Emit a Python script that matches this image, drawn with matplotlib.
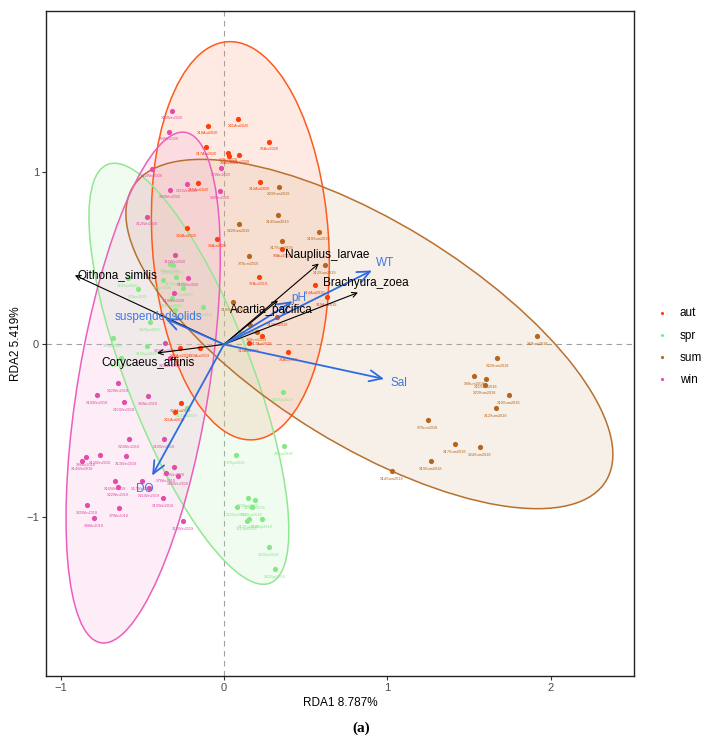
import numpy as np
import matplotlib
matplotlib.use("Agg")
import matplotlib.pyplot as plt
from matplotlib.patches import Ellipse

# ---------------- data ----------------
aut_x = [0.086, -0.098, 0.276, -0.110, 0.024, 0.030, 0.092, -0.159, 0.220, -0.227, -0.043, 0.355,
         0.214, 0.557, 0.631, 0.325, 0.233, 0.153, 0.392, -0.147, -0.269, -0.263, -0.300]
aut_y = [1.306, 1.266, 1.173, 1.145, 1.110, 1.092, 1.098, 0.936, 0.942, 0.671, 0.613, 0.555,
         0.393, 0.341, 0.272, 0.156, 0.046, 0.006, -0.046, -0.023, -0.023, -0.341, -0.393]
aut_lab = ["X21Aut2020", "X10Aut2020", "X5Aut2020", "X17Aut2020", "X7Aut2020", "X9Aut2020", "X22Aut2020",
           "X15Aut2020", "X12Aut2020", "X20Aut2020", "X6Aut2020", "X9Aut2019", "X7Aut2019", "X14Aut2019",
           "X19Aut2019", "X12Aut2019", "X17Aut2019", "X10Aut2019", "X5Aut2019", "X23Aut2019", "X22Aut2019",
           "X24Aut2019", "X21Aut2019"]

spr_x = [-0.331, -0.312, -0.588, -0.374, -0.294, -0.251, -0.527, -0.318, -0.129, -0.300, -0.453, -0.680,
         -0.472, -0.631, -0.227, 0.361, 0.367, 0.073, 0.147, 0.190, 0.080, 0.171, 0.153, 0.141, 0.233,
         0.276, 0.312]
spr_y = [0.468, 0.457, 0.382, 0.370, 0.393, 0.329, 0.318, 0.266, 0.214, 0.202, 0.127, 0.035,
         -0.012, -0.081, -0.370, -0.277, -0.590, -0.642, -0.890, -0.902, -0.942, -0.942, -1.012, -1.023,
         -1.012, -1.173, -1.301]
spr_lab = ["X6Spr2020", "X22Spr2020", "X24Spr2020", "X9Spr2020", "X12Spr2020", "X17Spr2020", "X7Spr2019",
           "X11Spr2020", "X20Spr2019", "X21Spr2020", "X22Spr2019", "X5Spr2019", "X15Spr2019", "X14Spr2019",
           "X13Spr2019", "X21Spr2019", "X6Spr2018", "X7Spr2018", "X20Spr2018", "X24Spr2018", "X22Spr2018",
           "X10Spr2018", "X17Spr2018", "X11Spr2018", "X14Spr2018", "X23Spr2018", "X16Spr2018"]

sum_x = [0.337, 0.331, 0.092, 0.582, 0.355, 0.153, 0.618, 0.055, 0.159, 0.202, 1.918, 1.672,
         1.531, 1.604, 1.598, 1.745, 1.666, 1.249, 1.415, 1.568, 1.268, 1.029]
sum_y = [0.913, 0.751, 0.699, 0.653, 0.601, 0.509, 0.457, 0.243, 0.110, 0.069, 0.046, -0.081,
         -0.185, -0.202, -0.237, -0.295, -0.370, -0.439, -0.578, -0.595, -0.676, -0.734]
sum_lab = ["X23Sum2019", "X14Sum2019", "X22Sum2019", "X19Sum2019", "X17Sum2019", "X7Sum2019", "X12Sum2019",
           "X10Sum2019", "X8Sum2019", "X9Sum2019", "X6Sum2018", "X22Sum2018", "X9Sum2018", "X21Sum2018",
           "X23Sum2018", "X10Sum2018", "X12Sum2018", "X7Sum2018", "X17Sum2018", "X24Sum2018", "X19Sum2018",
           "X14Sum2018"]

win_x = [-0.318, -0.337, -0.441, -0.018, -0.227, -0.331, -0.024, -0.472, -0.300, -0.220, -0.306, -0.361,
         -0.331, -0.649, -0.778, -0.612, -0.465, -0.582, -0.367, -0.845, -0.870, -0.759, -0.600, -0.306,
         -0.355, -0.282, -0.502, -0.667, -0.649, -0.459, -0.374, -0.839, -0.643, -0.796, -0.251]
win_y = [1.353, 1.231, 1.017, 1.023, 0.931, 0.896, 0.890, 0.740, 0.520, 0.387, 0.295, 0.006,
         -0.081, -0.225, -0.295, -0.335, -0.301, -0.549, -0.549, -0.653, -0.676, -0.642, -0.647, -0.711,
         -0.746, -0.763, -0.792, -0.792, -0.827, -0.832, -0.890, -0.931, -0.948, -1.006, -1.023]
win_lab = ["X10Win2020", "X9Win2020", "X22Win2020", "X7Win2020", "X21Win2020", "X20Win2020", "X6Win2020",
           "X12Win2020", "X15Win2020", "X16Win2020", "X19Win2020", "X24Win2019", "X23Win2019", "X22Win2018",
           "X10Win2018", "X21Win2018", "X6Win2018", "X23Win2018", "X18Win2018", "X9Win2018", "X14Win2018",
           "X12Win2018", "X13Win2018", "X17Win2020", "X7Win2019", "X26Win2020", "X17Win2018", "X16Win2018",
           "X22Win2019", "X21Win2019", "X19Win2018", "X25Win2018", "X7Win2018", "X8Win2018", "X10Win2019"]

seasons = ["aut", "spr", "sum", "win"]
point_colors = ["#FF3D0A", "#86E786", "#B5651D", "#E54BA8"]
edge_colors = ["#FF5A1E", "#90E890", "#B8702E", "#EE5DBE"]
fill_colors = ["#FB9A6E", "#B8F0B8", "#D9B58F", "#F4A6D8"]

# ellipse summaries (centre x, centre y, width, height, angle)
ell_cx = [0.10, -0.215, 0.89, -0.495]
ell_cy = [0.60, -0.17, 0.06, -0.25]
ell_w = [1.08, 0.76, 3.36, 0.80]
ell_h = [2.31, 2.62, 1.30, 3.00]
ell_ang = [4, 22.5, -30, -10]

env_names = ["WT", "Sal", "pH", "suspendedsolids", "DO"]
env_x = [0.906, 0.98, 0.42, -0.36, -0.44]
env_y = [0.428, -0.20, 0.25, 0.15, -0.76]
env_lab_x = [0.985, 1.07, 0.46, -0.40, -0.485]
env_lab_y = [0.47, -0.225, 0.27, 0.156, -0.84]

spe_names = ["Oithona_similis", "Corycaeus_affinis", "Acartia_pacifica", "Nauplius_larvae", "Brachyura_zoea"]
spe_x = [-0.913, -0.41, 0.33, 0.58, 0.82]
spe_y = [0.40, -0.05, 0.254, 0.468, 0.30]
spe_lab_x = [-0.655, -0.466, 0.288, 0.63, 0.87]
spe_lab_y = [0.40, -0.11, 0.202, 0.52, 0.353]

xlab = "RDA1 8.787%"
ylab = "RDA2 5.419%"

# ---------------- figure ----------------
plt.rcParams['font.family'] = ['Liberation Sans', 'DejaVu Sans']
fig = plt.figure(figsize=(7.15, 7.46), dpi=100)
ax = fig.add_axes([0.0643, 0.0938, 0.8224, 0.8914])
ax.set_xlim(-1.09, 2.51)
ax.set_ylim(-1.92, 1.93)

ax.axhline(0, color="#A0A0A0", lw=0.8, ls=(0, (5, 4)), zorder=1)
ax.axvline(0, color="#A0A0A0", lw=0.8, ls=(0, (5, 4)), zorder=1)

for i in range(4):
    e = Ellipse((ell_cx[i], ell_cy[i]), ell_w[i], ell_h[i], angle=ell_ang[i],
                facecolor=fill_colors[i], alpha=0.2, edgecolor='none', zorder=2)
    ax.add_patch(e)
for i in range(4):
    e = Ellipse((ell_cx[i], ell_cy[i]), ell_w[i], ell_h[i], angle=ell_ang[i],
                facecolor='none', edgecolor=edge_colors[i], lw=1.1, zorder=3)
    ax.add_patch(e)

groups = [(aut_x, aut_y, aut_lab), (spr_x, spr_y, spr_lab), (sum_x, sum_y, sum_lab), (win_x, win_y, win_lab)]
for i, (gx, gy, gl) in enumerate(groups):
    ax.scatter(gx, gy, s=14, color=point_colors[i], zorder=4, linewidths=0, label=seasons[i])
    for x, y, t in zip(gx, gy, gl):
        ax.annotate(t, (x, y), xytext=(0, -5.5), textcoords='offset points', ha='center', va='center',
                    fontsize=2.8, color=point_colors[i], zorder=4)

# species arrows (black)
for n, x, y, lx, ly in zip(spe_names, spe_x, spe_y, spe_lab_x, spe_lab_y):
    ax.annotate("", xy=(x, y), xytext=(0, 0),
                arrowprops=dict(arrowstyle='->,head_length=0.35,head_width=0.18', color='black', lw=0.8,
                                shrinkA=0, shrinkB=0, mutation_scale=10), zorder=5)
    ax.text(lx, ly, n, fontsize=8.5, color='black', ha='center', va='center', zorder=6)

# environmental arrows (blue)
for n, x, y, lx, ly in zip(env_names, env_x, env_y, env_lab_x, env_lab_y):
    ax.annotate("", xy=(x, y), xytext=(0, 0),
                arrowprops=dict(arrowstyle='->,head_length=0.9,head_width=0.4', color='#2F6BE0', lw=1.3,
                                shrinkA=0, shrinkB=0, mutation_scale=10), zorder=5)
    ax.text(lx, ly, n, fontsize=8.5, color='#3C78E6', ha='center', va='center', zorder=6)

ax.set_xticks([-1, 0, 1, 2])
ax.set_yticks([-1, 0, 1])
ax.set_xticklabels(["\u22121", "0", "1", "2"])
ax.set_yticklabels(["\u22121", "0", "1"])
ax.tick_params(axis='both', direction='out', length=3, width=0.8, color='#333333',
               labelsize=8, labelcolor='#4D4D4D', pad=2)
for s in ax.spines.values():
    s.set_linewidth(1.0)
    s.set_color('#222222')
ax.set_xlabel(xlab, fontsize=8.5, labelpad=3)
ax.set_ylabel(ylab, fontsize=8.5, labelpad=3)

leg = ax.legend(loc='center left', bbox_to_anchor=(1.02, 0.4955), frameon=False, fontsize=8.5,
                markerscale=0.6, handletextpad=1.0, labelspacing=0.85, handlelength=1.0)

fig.text(0.505, 0.024, "(a)", ha='center', va='center', fontsize=11,
         family=['Liberation Serif', 'DejaVu Serif'], fontweight='bold')

fig.savefig("out.png", dpi=100)
